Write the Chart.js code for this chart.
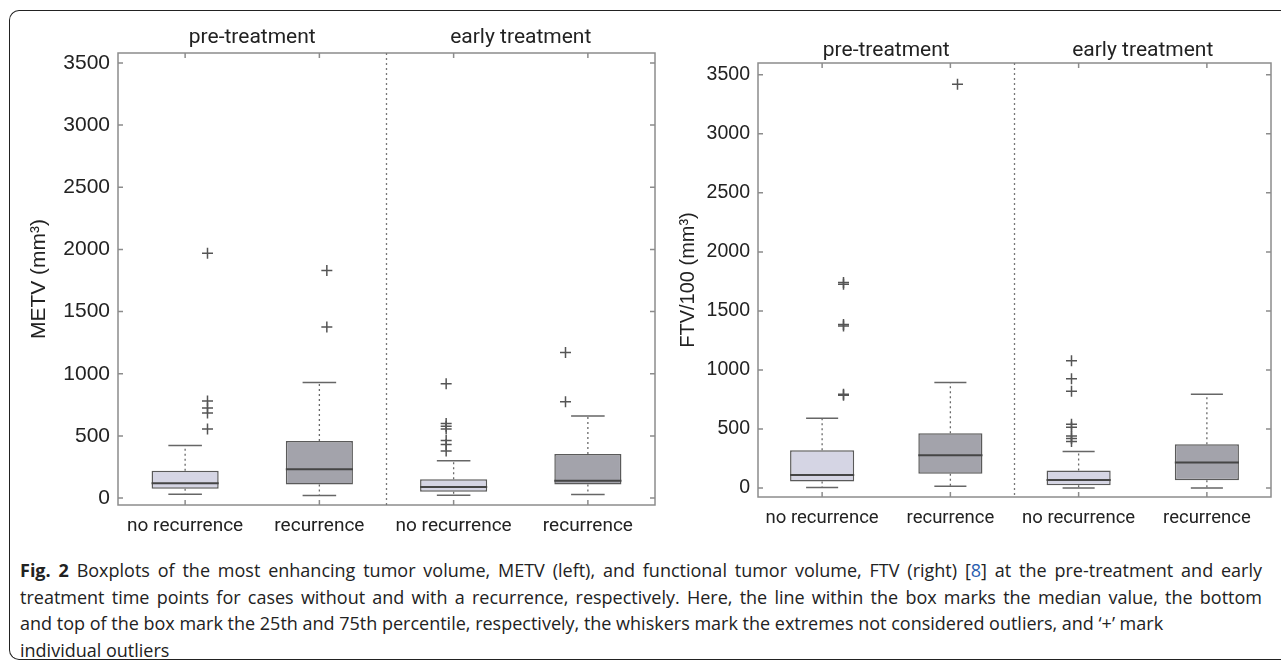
<!DOCTYPE html>
<html><head><meta charset="utf-8">
<script src="https://cdn.jsdelivr.net/npm/chart.js@4.4.1/dist/chart.umd.min.js"></script>
<style>
html,body{margin:0;padding:0;background:#fff;}
body{width:1281px;height:660px;overflow:hidden;position:relative;}
#frame{position:absolute;left:9px;top:10px;width:1320px;height:650px;border:1.5px solid #222;border-right:none;border-radius:10px 0 0 10px;box-sizing:border-box;}
#w1{position:absolute;left:0;top:0;width:662px;height:545px;}
#w2{position:absolute;left:662px;top:0;width:619px;height:545px;}
#caption{position:absolute;left:20px;top:557px;width:1242px;font-family:'Open Sans';font-size:18px;line-height:26.7px;color:#222;white-space:nowrap;}
#caption .j{text-align:justify;text-align-last:justify;}
#caption b{font-weight:700;}
#caption .ref{color:#2a5db0;}
</style></head>
<body>
<div id="frame"></div>
<div id="w1"><canvas id="c1" width="662" height="545"></canvas></div>
<div id="w2"><canvas id="c2" width="619" height="545"></canvas></div>
<div id="caption">
<div class="ln j"><b>Fig. 2</b> Boxplots of the most enhancing tumor volume, METV (left), and functional tumor volume, FTV (right) [<span class="ref">8</span>] at the pre-treatment and early</div>
<div class="ln j">treatment time points for cases without and with a recurrence, respectively. Here, the line within the box marks the median value, the bottom</div>
<div class="ln">and top of the box mark the 25th and 75th percentile, respectively, the whiskers mark the extremes not considered outliers, and ‘+’ mark</div>
<div class="ln">individual outliers</div>
</div>
<script>
// ---------- data ----------
const categories = ['no recurrence', 'recurrence', 'no recurrence', 'recurrence'];
const phases = ['pre-treatment', 'early treatment'];
const yTicks = [0, 500, 1000, 1500, 2000, 2500, 3000, 3500];

// METV (left)
const metvLow    = [30, 20, 22, 28];
const metvQ1     = [75, 108, 50, 108];
const metvMedian = [118, 232, 88, 140];
const metvQ3     = [220, 458, 152, 355];
const metvHigh   = [422, 930, 300, 660];
const metvOutliers = [
  [1970, 780, 725, 685, 555],
  [1830, 1375],
  [920, 600, 578, 556, 462, 430, 378],
  [1170, 775]
];

// FTV/100 (right)
const ftvLow    = [5, 15, 0, 0];
const ftvQ1     = [55, 121, 24, 66];
const ftvMedian = [110, 278, 68, 216];
const ftvQ3     = [320, 465, 148, 370];
const ftvHigh   = [592, 893, 310, 795];
const ftvOutliers = [
  [1740, 1725, 1385, 1372, 795, 785],
  [3420],
  [1078, 925, 820, 540, 515, 440, 420, 395],
  []
];

const LIGHT = '#d5d5e4', DARK = '#a3a3ab';

function boxPlugin(low, q1, med, q3, high) {
  return {
    id: 'boxDecor',
    beforeDatasetsDraw(chart) {
      const ctx = chart.ctx, xs = chart.scales.x, ys = chart.scales.y;
      const meta = chart.getDatasetMeta(0);
      ctx.save();
      for (let i = 0; i < categories.length; i++) {
        const x = meta.data[i].x;
        const w = meta.data[i].width;
        ctx.strokeStyle = '#6a6a6a';
        ctx.lineWidth = 1.3;
        ctx.setLineDash([2, 3]);
        ctx.beginPath();
        ctx.moveTo(x, ys.getPixelForValue(q3[i])); ctx.lineTo(x, ys.getPixelForValue(high[i]));
        ctx.moveTo(x, ys.getPixelForValue(q1[i])); ctx.lineTo(x, ys.getPixelForValue(low[i]));
        ctx.stroke();
        ctx.setLineDash([]);
        ctx.strokeStyle = '#666';
        ctx.lineWidth = 1.5;
        ctx.beginPath();
        const cw = w / 4;
        ctx.moveTo(x - cw, ys.getPixelForValue(high[i])); ctx.lineTo(x + cw, ys.getPixelForValue(high[i]));
        ctx.moveTo(x - cw, ys.getPixelForValue(low[i])); ctx.lineTo(x + cw, ys.getPixelForValue(low[i]));
        ctx.stroke();
      }
      ctx.restore();
    },
    afterDatasetsDraw(chart) {
      const ctx = chart.ctx, ys = chart.scales.y;
      const meta = chart.getDatasetMeta(0);
      ctx.save();
      ctx.strokeStyle = '#454545';
      ctx.lineWidth = 2;
      for (let i = 0; i < categories.length; i++) {
        const x = meta.data[i].x;
        const w = meta.data[i].width;
        const y = ys.getPixelForValue(med[i]);
        ctx.beginPath(); ctx.moveTo(x - w / 2, y); ctx.lineTo(x + w / 2, y); ctx.stroke();
      }
      ctx.restore();
    },
    afterDraw(chart) {
      const ctx = chart.ctx, xs = chart.scales.x, ys = chart.scales.y;
      const {left, right, top, bottom} = chart.chartArea;
      ctx.save();
      ctx.strokeStyle = '#8c8c8c';
      ctx.lineWidth = 1.5;
      ctx.strokeRect(left, top, right - left, bottom - top);
      ctx.beginPath();
      yTicks.forEach(v => {
        const y = ys.getPixelForValue(v);
        ctx.moveTo(left, y); ctx.lineTo(left + 5, y);
        ctx.moveTo(right, y); ctx.lineTo(right - 5, y);
      });
      for (let i = 0; i < categories.length; i++) {
        const x = xs.getPixelForValue(i);
        ctx.moveTo(x, bottom); ctx.lineTo(x, bottom - 5);
        ctx.moveTo(x, top); ctx.lineTo(x, top + 5);
      }
      ctx.stroke();
      const xd = (xs.getPixelForValue(1) + xs.getPixelForValue(2)) / 2;
      ctx.strokeStyle = '#777';
      ctx.lineWidth = 1.3;
      ctx.setLineDash([2, 3]);
      ctx.beginPath(); ctx.moveTo(xd, top); ctx.lineTo(xd, bottom); ctx.stroke();
      ctx.restore();
    }
  };
}

function makeChart(id, cfg) {
  const outPts = [];
  cfg.out.forEach((arr, i) => arr.forEach(v => outPts.push({x: i, y: v})));
  return new Chart(document.getElementById(id), {
    type: 'bar',
    data: {
      labels: categories,
      datasets: [{
        data: cfg.q1.map((v, i) => [v, cfg.q3[i]]),
        backgroundColor: [LIGHT, DARK, LIGHT, DARK],
        borderColor: '#5a5a5a',
        borderWidth: 1.5,
        borderSkipped: false,
        grouped: false,
        barPercentage: 0.5,
        categoryPercentage: 1,
        order: 2
      }, {
        type: 'scatter',
        data: outPts,
        xAxisID: 'xo',
        pointStyle: 'cross',
        radius: 5.5,
        borderColor: '#555',
        borderWidth: 1.5,
        order: 1
      }]
    },
    options: {
      responsive: false,
      animation: false,
      events: [],
      layout: {padding: {left: 0, right: cfg.padRight, top: cfg.padTop, bottom: 0}},
      plugins: {legend: {display: false}, tooltip: {enabled: false}},
      scales: {
        x: {
          type: 'category', offset: true,
          grid: {display: false, drawTicks: false}, border: {display: false},
          ticks: {color: '#222', font: {family: 'Roboto', size: cfg.catSize}, padding: 10, maxRotation: 0, autoSkip: false},
          afterFit(s) { s.height = cfg.xH; }
        },
        x2: {
          type: 'category', position: 'top', labels: phases, offset: true,
          grid: {display: false, drawTicks: false}, border: {display: false},
          ticks: {color: '#222', font: {family: 'Roboto', size: 21}, padding: cfg.subPad, maxRotation: 0, autoSkip: false},
          afterFit(s) { s.height = 30; }
        },
        xo: {type: 'linear', display: false, min: -0.5, max: 3.5},
        y: {
          type: 'linear', min: cfg.ymin, max: cfg.ymax,
          afterBuildTicks(s) { s.ticks = yTicks.map(v => ({value: v})); },
          grid: {display: false, drawTicks: false}, border: {display: false},
          ticks: {color: '#222', font: {family: 'Liberation Sans', size: cfg.tickSize}, padding: 8, callback: (v) => String(v)},
          title: {display: true, text: cfg.title, color: '#222', font: {family: 'Liberation Sans', size: cfg.titleSize}, padding: {top: cfg.titlePad, bottom: 0}},
          afterFit(s) { s.width = cfg.yW; }
        }
      }
    },
    plugins: [boxPlugin(cfg.low, cfg.q1, cfg.med, cfg.q3, cfg.high)]
  });
}

makeChart('c1', {
  low: metvLow, q1: metvQ1, med: metvMedian, q3: metvQ3, high: metvHigh, out: metvOutliers,
  ymin: -56, ymax: 3580, padRight: 7, padTop: 23, xH: 40, yW: 118,
  title: 'METV (mm³)', titleSize: 21, titlePad: 27, tickSize: 21, catSize: 19, subPad: 3
});
makeChart('c2', {
  low: ftvLow, q1: ftvQ1, med: ftvMedian, q3: ftvQ3, high: ftvHigh, out: ftvOutliers,
  ymin: -76, ymax: 3600, padRight: 10, padTop: 33, xH: 48, yW: 96,
  title: 'FTV/100 (mm³)', titleSize: 20, titlePad: 14, tickSize: 19.5, catSize: 18.5, subPad: 0
});
</script>
</body></html>
